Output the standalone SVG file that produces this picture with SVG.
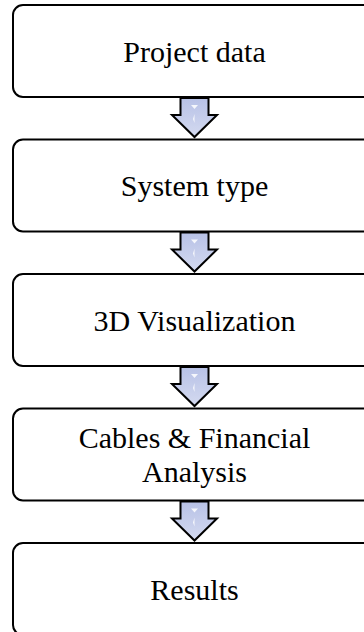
<svg xmlns="http://www.w3.org/2000/svg" width="364" height="632" viewBox="0 0 364 632">
<style>
.box{fill:#fff;stroke:#000;stroke-width:2}
.lbl{font-family:"Liberation Serif","Times New Roman",serif;font-size:30px;fill:#000;text-anchor:middle}
.arr{fill:url(#g);stroke:#000;stroke-width:2;stroke-linejoin:miter}
.hl{fill:#fff;opacity:0.85}
</style>
<defs>
<linearGradient id="g" x1="0" y1="0" x2="0" y2="1">
<stop offset="0" stop-color="#b7c1e6"/>
<stop offset="1" stop-color="#d4daf0"/>
</linearGradient>
<g id="arrow">
<path class="arr" d="M180.5,0 H208.5 V17 H217 L194.5,39 L172,17 H180.5 Z"/>
<path class="hl" d="M191,7 H198 L194.5,11 Z"/>
<path class="hl" d="M193,21 L194.5,16 V25 Z"/>
</g>
</defs>
<g id="n1"><rect class="box" x="13" y="5" width="364" height="92" rx="10"/><text class="lbl" x="194.5" y="61.5">Project data</text></g>
<g id="n2"><rect class="box" x="13" y="139.5" width="364" height="92" rx="10"/><text class="lbl" x="194.5" y="196">System type</text></g>
<g id="n3"><rect class="box" x="13" y="274" width="364" height="92" rx="10"/><text class="lbl" x="194.5" y="330.5">3D Visualization</text></g>
<g id="n4"><rect class="box" x="13" y="408.5" width="364" height="92" rx="10"/><text class="lbl" x="194.5" y="448">Cables &amp; Financial</text><text class="lbl" x="194.5" y="482">Analysis</text></g>
<g id="n5"><rect class="box" x="13" y="543" width="364" height="92" rx="10"/><text class="lbl" x="194.5" y="600">Results</text></g>
<g id="connectors">
<use href="#arrow" y="98"/>
<use href="#arrow" y="232.5"/>
<use href="#arrow" y="367"/>
<use href="#arrow" y="501.5"/>
</g>
</svg>
